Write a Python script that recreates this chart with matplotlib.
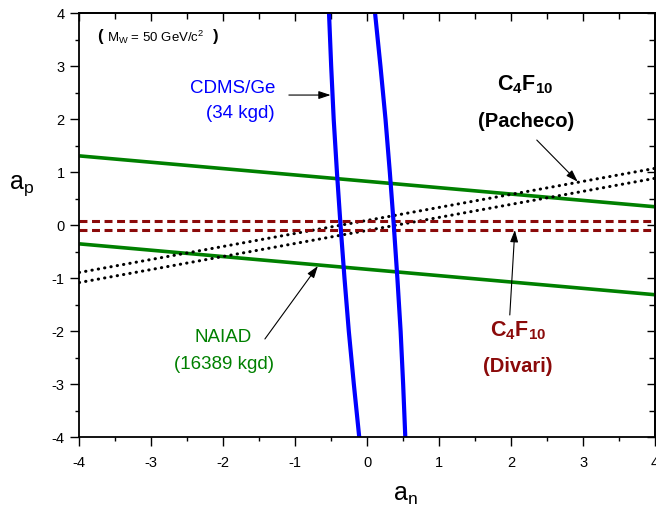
import matplotlib
matplotlib.use("Agg")
import matplotlib.pyplot as plt
from matplotlib.ticker import MultipleLocator

plt.rcParams['font.family'] = ['Liberation Sans', 'DejaVu Sans']
plt.rcParams['mathtext.fontset'] = 'custom'
plt.rcParams['mathtext.rm'] = 'Liberation Sans'
plt.rcParams['mathtext.it'] = 'Liberation Sans:italic'
plt.rcParams['mathtext.bf'] = 'Liberation Sans:bold'
plt.rcParams['axes.unicode_minus'] = False

# CDMS/Ge band (two near vertical boundaries), a_n read at given a_p
cdms_ap = [4, 3, 2, 1, 0, -1, -2, -3, -4]
cdms_an_left = [-0.53, -0.50, -0.465, -0.42, -0.37, -0.315, -0.255, -0.185, -0.11]
cdms_an_right = [0.11, 0.185, 0.255, 0.315, 0.37, 0.42, 0.465, 0.50, 0.53]

# NAIAD band
naiad_an = [-4, 4]
naiad_ap_upper = [1.31, 0.35]
naiad_ap_lower = [-0.35, -1.31]

# C4F10 Pacheco (dotted)
pach_an = [-4, 4]
pach_ap_upper = [-0.89, 1.075]
pach_ap_lower = [-1.08, 0.887]

# C4F10 Divari (dashed)
div_an = [-4, 4]
div_ap_upper = [0.08, 0.08]
div_ap_lower = [-0.08, -0.08]

green = '#008000'
blue = '#0000ff'
darkred = '#8b0a0a'

fig = plt.figure(figsize=(6.56, 5.13), dpi=100)
ax = fig.add_axes([0.1209, 0.1476, 0.8776, 0.8264])

ax.plot(naiad_an, naiad_ap_upper, color=green, lw=2.6, solid_capstyle='butt')
ax.plot(naiad_an, naiad_ap_lower, color=green, lw=2.6, solid_capstyle='butt')

dots = (0, (0.1, 2.0))
ax.plot(pach_an, pach_ap_upper, color='k', lw=2.2, ls=dots, dash_capstyle='round')
ax.plot(pach_an, pach_ap_lower, color='k', lw=2.2, ls=dots, dash_capstyle='round')

dashes = (0, (2.6, 1.5))
ax.plot(div_an, div_ap_upper, color=darkred, lw=2.2, ls=dashes)
ax.plot(div_an, div_ap_lower, color=darkred, lw=2.2, ls=dashes)

ax.plot(cdms_an_left, cdms_ap, color=blue, lw=3.0, solid_capstyle='butt', solid_joinstyle='round')
ax.plot(cdms_an_right, cdms_ap, color=blue, lw=3.0, solid_capstyle='butt', solid_joinstyle='round')

ax.set_xlim(-4, 4)
ax.set_ylim(-4, 4)
ax.xaxis.set_major_locator(MultipleLocator(1))
ax.xaxis.set_minor_locator(MultipleLocator(0.5))
ax.yaxis.set_major_locator(MultipleLocator(1))
ax.yaxis.set_minor_locator(MultipleLocator(0.5))
ax.tick_params(which='major', direction='out', length=6.5, width=1.0, labelsize=10.5)
ax.tick_params(which='minor', direction='out', length=3.2, width=1.0)
ax.tick_params(axis='x', pad=7)
ax.tick_params(axis='y', pad=4)
for s in ax.spines.values():
    s.set_linewidth(1.3)

# mirrored ticks on top/right point inward
top = ax.secondary_xaxis('top')
right = ax.secondary_yaxis('right')
for sec in (top, right):
    sec.set_ticks([-4, -3, -2, -1, 0, 1, 2, 3, 4])
    sec.set_ticks([-3.5, -2.5, -1.5, -0.5, 0.5, 1.5, 2.5, 3.5], minor=True)
    sec.tick_params(which='major', direction='in', length=6, width=1.0)
    sec.tick_params(which='minor', direction='in', length=4, width=1.0)
    sec.spines[:].set_linewidth(1.3)
top.tick_params(labeltop=False)
right.tick_params(labelright=False)

ax.set_xlabel(r'a$_\mathrm{n}$', fontsize=18)
ax.xaxis.set_label_coords(0.566, -0.108)
ax.set_ylabel(r'a$_\mathrm{p}$', fontsize=18, rotation=0, va='center', ha='center')
ax.yaxis.set_label_coords(-0.0995, 0.593)

# labels
ax.text(-3.758, 3.47, '(', fontsize=12, fontweight='bold', va='baseline')
ax.text(-3.619, 3.463, r'M$_\mathrm{W}$ = 50 GeV/c$^\mathrm{2}$', fontsize=9.5, va='baseline')
ax.text(-2.14, 3.47, ')', fontsize=12, fontweight='bold', va='baseline')

ax.text(-1.281, 2.59, 'CDMS/Ge', color=blue, fontsize=13.5, ha='right', va='center')
ax.text(-1.281, 2.117, '(34 kgd)', color=blue, fontsize=13.5, ha='right', va='center')

ax.text(-2.004, -2.126, 'NAIAD', color=green, fontsize=13.5, ha='center', va='center')
ax.text(-1.99, -2.636, '(16389 kgd)', color=green, fontsize=13.5, ha='center', va='center')

ax.text(2.093, -1.98, r'$\mathbf{C_4F_{10}}$', color=darkred, fontsize=15.5, ha='center', va='center')
ax.text(2.093, -2.673, '(Divari)', color=darkred, fontsize=14.5, fontweight='bold', ha='center', va='center')

ax.text(2.2, 2.66, r'$\mathbf{C_4F_{10}}$', color='k', fontsize=15.5, ha='center', va='center')
ax.text(2.21, 1.955, '(Pacheco)', color='k', fontsize=14.5, fontweight='bold', ha='center', va='center')

arrow = dict(arrowstyle='-|>,head_length=0.6,head_width=0.2', color='k', lw=0.8,
             mutation_scale=12, shrinkA=0, shrinkB=0)
ax.annotate('', xy=(-0.508, 2.458), xytext=(-1.088, 2.458), arrowprops=arrow)
ax.annotate('', xy=(-0.685, -0.768), xytext=(-1.421, -2.145), arrowprops=arrow)
ax.annotate('', xy=(2.926, 0.823), xytext=(2.357, 1.609), arrowprops=arrow)
ax.annotate('', xy=(2.052, -0.089), xytext=(1.982, -1.692), arrowprops=arrow)

plt.savefig("out.png", dpi=100)
plt.close()
